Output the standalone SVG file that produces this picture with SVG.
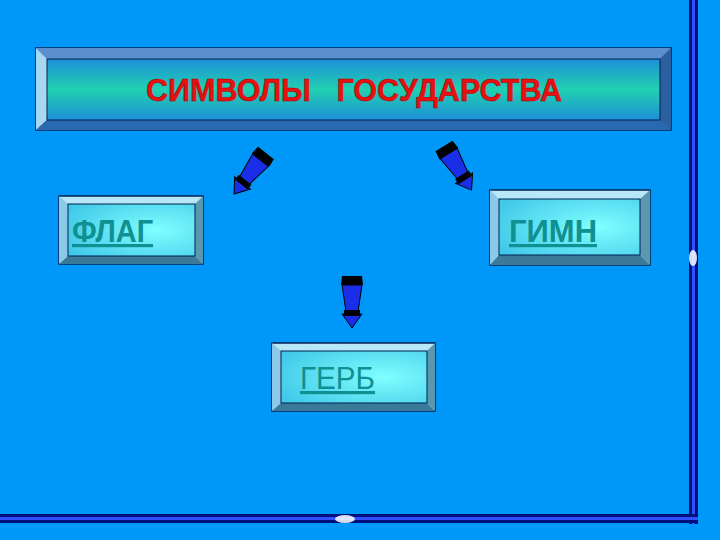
<svg xmlns="http://www.w3.org/2000/svg" width="720" height="540" viewBox="0 0 720 540">
<defs>
<linearGradient id="tg" x1="0" y1="0" x2="0" y2="1"><stop offset="0" stop-color="#1e8fd8"/><stop offset="0.5" stop-color="#20d0b0"/><stop offset="1" stop-color="#1e8fd8"/></linearGradient>
<radialGradient id="bg2" cx="0.7" cy="0.5" r="0.8"><stop offset="0" stop-color="#80ffff"/><stop offset="1" stop-color="#40c8e8"/></radialGradient>
<g id="arrow">
<polygon points="-10,0 10,0 11,9 -11,9" fill="#000"/>
<polygon points="-10,9 10,9 6,36 -6,36" fill="#1a2ee8" stroke="#000" stroke-width="1"/>
<polygon points="-10,38 10,38 0,52" fill="#1a2ee8" stroke="#000" stroke-width="1"/>
<rect x="-8" y="34" width="16" height="6" fill="#000"/>
</g>
<style>
.o{stroke:#002050;stroke-width:1.5}
.lt{fill:#b8e8f8}.lf{fill:#8cc8e8}.dk{fill:#3a7a98}.rt{fill:#5a98b0}
.lbl{font-family:"Liberation Sans",Arial,sans-serif;font-weight:bold;font-size:32px;fill:#109090;text-decoration:underline}
</style>
</defs>
<rect width="720" height="540" fill="#0098f8"/>
<g id="frame">
<rect x="689" y="0" width="3" height="524" fill="#00107a"/>
<rect x="692" y="0" width="3" height="524" fill="#3050ff"/>
<rect x="695" y="0" width="3" height="524" fill="#00107a"/>
<rect x="0" y="514" width="698" height="3" fill="#00107a"/>
<rect x="0" y="517" width="698" height="3" fill="#3050ff"/>
<rect x="0" y="520" width="698" height="3" fill="#00107a"/>
<ellipse cx="693" cy="258" rx="4" ry="8" fill="#fff" opacity="0.85"/>
<ellipse cx="345" cy="519" rx="10" ry="4" fill="#fff" opacity="0.85"/>
</g>
<g id="title">
<rect x="36" y="48" width="635" height="82" fill="#2a70b8" class="o"/>
<polygon points="36,48 671,48 660,59 47,59" fill="#5a90d0"/>
<polygon points="36,48 47,59 47,120 36,130" fill="#a8d8f0"/>
<polygon points="671,48 671,130 660,120 660,59" fill="#2a60a0"/>
<polygon points="36,130 47,120 660,120 671,130" fill="#2a68b0"/>
<rect x="47" y="59" width="613" height="61" fill="url(#tg)" stroke="#002050"/>
<text x="146" y="101" textLength="416" lengthAdjust="spacingAndGlyphs" font-family="'Liberation Sans',Arial,sans-serif" font-weight="bold" font-size="32" fill="#e81010" stroke="#a00000" stroke-width="0.5" xml:space="preserve">СИМВОЛЫ   ГОСУДАРСТВА</text>
</g>
<g id="flag">
<rect x="59" y="196" width="144" height="68" class="o lt"/>
<polygon points="59,196 68,204 68,256 59,264" class="lf"/>
<polygon points="203,196 203,264 195,256 195,204" class="rt"/>
<polygon points="59,264 68,256 195,256 203,264" class="dk"/>
<rect x="68" y="204" width="127" height="52" fill="url(#bg2)" stroke="#002050"/>
<text x="72" y="242" textLength="81" lengthAdjust="spacingAndGlyphs" class="lbl">ФЛАГ</text>
</g>
<g id="gimn">
<rect x="490" y="190" width="160" height="75" class="o lt"/>
<polygon points="490,190 499,199 499,255 490,265" class="lf"/>
<polygon points="650,190 650,265 640,255 640,199" class="rt"/>
<polygon points="490,265 499,255 640,255 650,265" class="dk"/>
<rect x="499" y="199" width="141" height="56" fill="url(#bg2)" stroke="#002050"/>
<text x="509" y="242" textLength="88" lengthAdjust="spacingAndGlyphs" class="lbl">ГИМН</text>
</g>
<g id="gerb">
<rect x="272" y="343" width="163" height="68" class="o lt"/>
<polygon points="272,343 281,351 281,403 272,411" class="lf"/>
<polygon points="435,343 435,411 427,403 427,351" class="rt"/>
<polygon points="272,411 281,403 427,403 435,411" class="dk"/>
<rect x="281" y="351" width="146" height="52" fill="url(#bg2)" stroke="#002050"/>
<text x="300" y="389" textLength="75" lengthAdjust="spacingAndGlyphs" class="lbl" style="font-weight:normal">ГЕРБ</text>
</g>
<g id="connectors">
<use href="#arrow" transform="translate(266,153) rotate(38)"/>
<use href="#arrow" transform="translate(444,146) rotate(-32)"/>
<use href="#arrow" transform="translate(352,276)"/>
</g>
</svg>
